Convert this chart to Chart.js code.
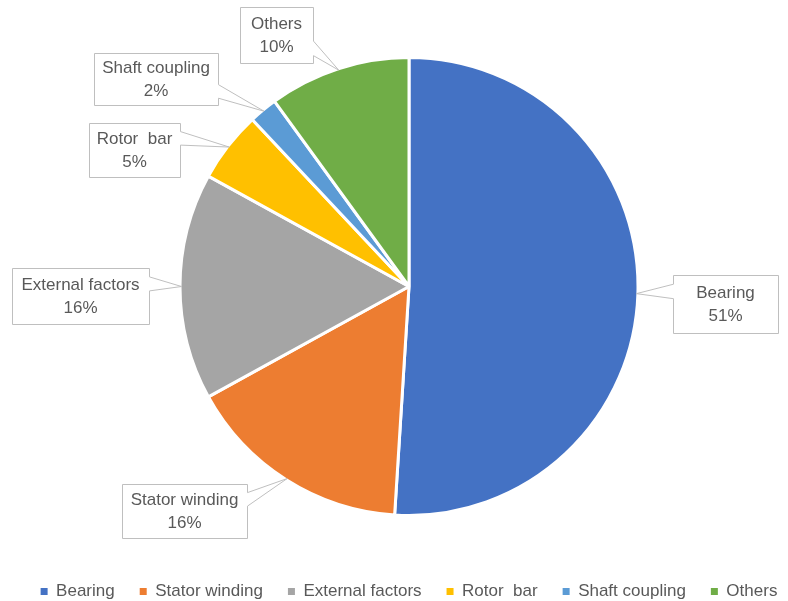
<!DOCTYPE html>
<html>
<head>
<meta charset="utf-8">
<script src="https://cdn.jsdelivr.net/npm/chart.js@4"></script>
<style>
  html, body { margin: 0; padding: 0; background: #fff; }
  #wrap { width: 788px; height: 601px; }
</style>
</head>
<body>
<div id="wrap"><canvas id="mycanvas" width="788" height="601"></canvas></div>
<script>
var causes = ['Bearing', 'Stator winding', 'External factors', 'Rotor  bar', 'Shaft coupling', 'Others'];
var shares = [51, 16, 16, 5, 2, 10];
var colours = ['#4472C4', '#ED7D31', '#A5A5A5', '#FFC000', '#5B9BD5', '#70AD47'];

// callout boxes [x, y, w, h] for each slice label
var calloutBoxes = [
	[673, 275, 105, 58],
	[122, 484, 125, 54],
	[12, 268, 137, 56],
	[89, 123, 91, 54],
	[94, 53, 124, 52],
	[240, 7, 73, 56]
];

var textGrey = '#595959';
var fontFamily = '"Liberation Sans", Arial, sans-serif';

// nudge the pie a little right of the legend's centre line
var shiftPie = {
	id: 'shiftPie',
	afterLayout: function(chart) {
		var ca = chart.chartArea;
		var dx = 409 - (ca.left + ca.right) / 2;
		ca.left += dx;
		ca.right += dx;
	}
};

var callouts = {
	id: 'callouts',
	afterDatasetsDraw: function(chart) {
		var ctx = chart.ctx;
		var arcs = chart.getDatasetMeta(0).data;
		ctx.save();
		for (var i = 0; i < arcs.length; i++) {
			var a = arcs[i];
			var mid = (a.startAngle + a.endAngle) / 2;
			var r = a.outerRadius - 1.5;
			var tx = a.x + Math.cos(mid) * r;
			var ty = a.y + Math.sin(mid) * r;
			var b = calloutBoxes[i];
			var x0 = b[0] + 0.5, y0 = b[1] + 0.5, x1 = b[0] + b[2] + 0.5, y1 = b[1] + b[3] + 0.5;
			var h = b[3];
			var cy = b[1] + h / 2;
			var q1, q2;
			if (ty < cy) { q1 = y0 + h * 0.15; q2 = y0 + h * 0.40; }
			else { q1 = y0 + h * 0.60; q2 = y0 + h * 0.86; }

			ctx.beginPath();
			ctx.moveTo(x0, y0);
			ctx.lineTo(x1, y0);
			if (tx > x1) {
				ctx.lineTo(x1, q1);
				ctx.lineTo(tx, ty);
				ctx.lineTo(x1, q2);
			}
			ctx.lineTo(x1, y1);
			ctx.lineTo(x0, y1);
			if (tx < x0) {
				ctx.lineTo(x0, q2);
				ctx.lineTo(tx, ty);
				ctx.lineTo(x0, q1);
			}
			ctx.closePath();
			ctx.fillStyle = '#ffffff';
			ctx.fill();
			ctx.strokeStyle = '#BFBFBF';
			ctx.lineWidth = 1;
			ctx.stroke();

			ctx.fillStyle = textGrey;
			ctx.font = '17px ' + fontFamily;
			ctx.textAlign = 'center';
			ctx.textBaseline = 'middle';
			var cx = b[0] + b[2] / 2;
			ctx.fillText(causes[i], cx, cy - 11);
			ctx.fillText(shares[i] + '%', cx, cy + 12);
		}
		ctx.restore();
	}
};

var ctx = document.getElementById('mycanvas');

var pieChart = new Chart(ctx, {
	type: 'pie',
	data: {
		labels: causes,
		datasets: [{
			data: shares,
			backgroundColor: colours,
			borderColor: '#ffffff',
			borderWidth: 3
		}]
	},
	options: {
		responsive: false,
		animation: false,
		radius: 229,
		layout: {
			padding: { top: 15, bottom: -9, left: 15, right: -15 }
		},
		plugins: {
			legend: {
				position: 'bottom',
				labels: {
					boxWidth: 7,
					boxHeight: 7,
					padding: 25,
					color: textGrey,
					font: { family: fontFamily, size: 17 },
					generateLabels: function(chart) {
						// plain filled squares, no white slice border
						var items = Chart.overrides.pie.plugins.legend.labels.generateLabels(chart);
						items.forEach(function(it) {
							it.lineWidth = 0;
							it.strokeStyle = it.fillStyle;
						});
						return items;
					}
				}
			},
			tooltip: { enabled: false }
		}
	},
	plugins: [shiftPie, callouts]
});
</script>
</body>
</html>
